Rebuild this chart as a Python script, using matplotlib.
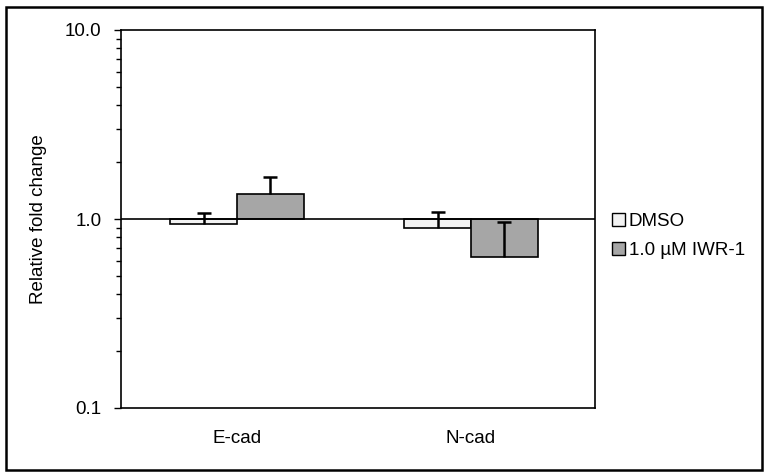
import matplotlib
matplotlib.use("Agg")
import matplotlib.pyplot as plt
from matplotlib.patches import Patch, Rectangle
import numpy as np

plt.rcParams['font.family'] = ['Liberation Sans', 'DejaVu Sans']

categories = ["E-cad", "N-cad"]
series_names = ["DMSO", "1.0 \u00b5M IWR-1"]
dmso = [0.94, 0.895]
dmso_err = [0.135, 0.195]
iwr = [1.36, 0.63]
iwr_err = [0.31, 0.33]
colors = ["#f2f2f2", "#a6a6a6"]

FS = 13.5
fig = plt.figure(figsize=(7.68, 4.76), dpi=100)
ax = fig.add_axes([121/768, 1-408/476, (595-121)/768, (408-30)/476])

x = np.arange(len(categories))
w = 0.286
for vals, errs, col, off in [(dmso, dmso_err, colors[0], -w/2), (iwr, iwr_err, colors[1], w/2)]:
    heights = [v - 1 for v in vals]
    ax.bar(x + off, heights, width=w, bottom=1, color=col, edgecolor="black", linewidth=1.2, zorder=2)
    eb = ax.errorbar(x + off, vals, yerr=[[0]*len(vals), errs], fmt="none", ecolor="black",
                     elinewidth=1.8, capsize=5, capthick=1.8, zorder=3)
    caps = eb[1]
    caps[0].set_visible(False)

ax.axhline(1.0, color="black", linewidth=1.2, zorder=4)
ax.set_yscale("log")
ax.set_ylim(0.1, 10)
ax.set_xlim(-0.496, 1.53)
ax.set_yticks([0.1, 1, 10])
ax.set_yticklabels(["0.1", "1.0", "10.0"], fontsize=FS)
ax.tick_params(axis="y", which="major", length=5, width=1, direction="out", pad=9)
ax.tick_params(axis="y", which="minor", length=3.5, width=1, direction="out")
ax.set_xticks(x)
ax.set_xticklabels(categories, fontsize=FS)
ax.tick_params(axis="x", length=0, pad=16)
ax.set_ylabel("Relative fold change", fontsize=FS, labelpad=13)
for s in ax.spines.values():
    s.set_linewidth(1.2)

handles = [Patch(facecolor=c, edgecolor="black", linewidth=1) for c in colors]
fig.legend(handles, series_names, loc="center left", bbox_to_anchor=(595/768, 1-236/476),
           frameon=False, fontsize=FS, handlelength=0.7, handleheight=0.7, handletextpad=0.2,
           labelspacing=0.6)

fig.patches.append(Rectangle((6/768, 6/476), 756/768, 463/476, transform=fig.transFigure,
                             fill=False, edgecolor="black", linewidth=1.8))
fig.savefig("out.png", dpi=100)
